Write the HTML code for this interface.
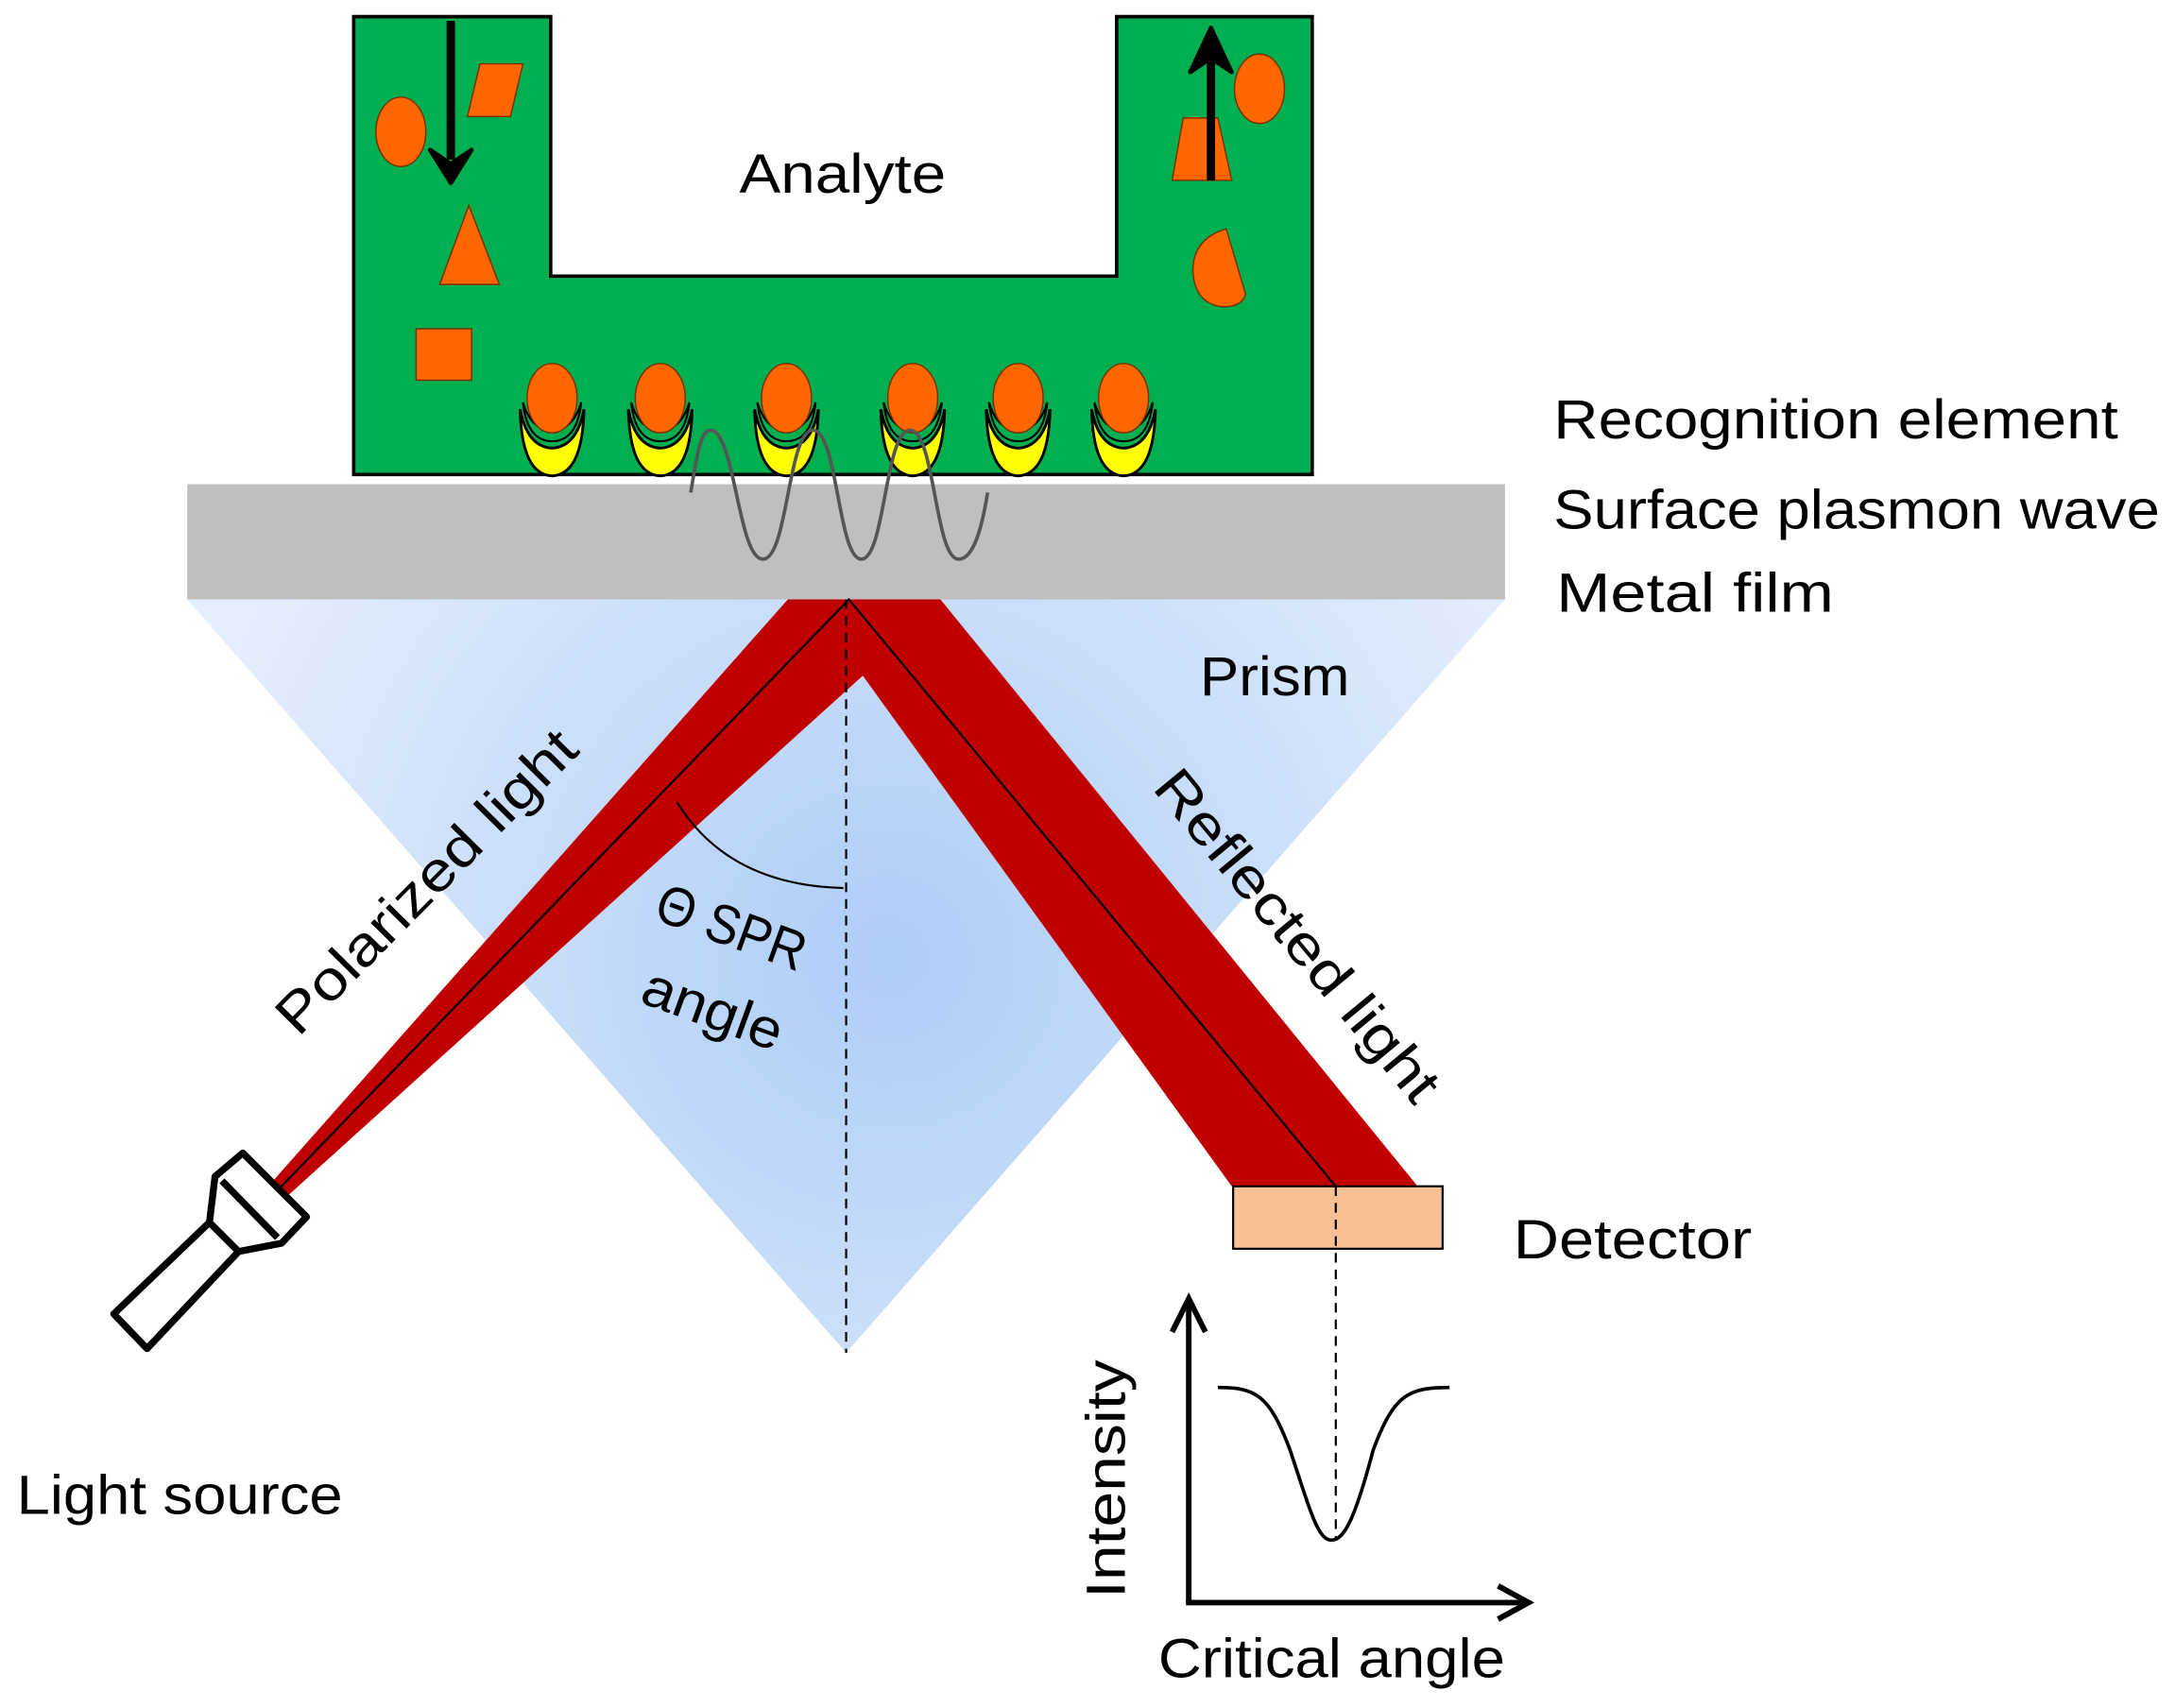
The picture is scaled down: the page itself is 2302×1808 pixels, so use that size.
<!DOCTYPE html>
<html><head><meta charset="utf-8"><style>
html,body{margin:0;padding:0;background:#fff;}
svg{display:block;}
text{font-family:"Liberation Sans",sans-serif;fill:#000;}
</style></head><body>
<svg width="2302" height="1808" viewBox="0 0 1568 1231" preserveAspectRatio="none" xmlns="http://www.w3.org/2000/svg">
<defs>
<radialGradient id="pg" cx="640" cy="690" r="520" gradientUnits="userSpaceOnUse">
<stop offset="0" stop-color="#aecdf7"/><stop offset="1" stop-color="#e4eefc"/>
</radialGradient>
<g id="re" stroke="#000" stroke-width="2">
<path d="M-23,295 Q-22,342 0,343 Q22,342 23,295 Q18,322 0,323 Q-18,322 -23,295 Z" fill="#ffff00"/>
<path d="M-21,290 Q-18,318 0,318 Q18,318 21,290 Q15,310 0,310 Q-15,310 -21,290 Z" fill="#00b050" stroke-width="1.5"/>
<ellipse cx="0" cy="287" rx="18" ry="25" fill="#ff6600" stroke="#7a3000" stroke-width="1"/>
</g>
</defs>
<polygon points="135,432 1085,432 610,975" fill="url(#pg)"/>
<path d="M255,12 H397 V199 H805 V12 H946 V342 H255 Z" fill="#00b050" stroke="#000" stroke-width="2.5"/>
<rect x="135" y="349" width="950" height="83" fill="#bfbfbf"/>
<ellipse cx="289" cy="95" rx="18" ry="25" fill="#ff6600" stroke="#7a3000" stroke-width="1"/>
<polygon points="346,46 377,46 368,84 337,84" fill="#ff6600" stroke="#7a3000" stroke-width="1"/>
<polygon points="317,205 338,148 360,205" fill="#ff6600" stroke="#7a3000" stroke-width="1"/>
<rect x="300" y="237" width="40" height="37" fill="#ff6600" stroke="#7a3000" stroke-width="1"/>
<line x1="325" y1="15" x2="325" y2="115" stroke="#000" stroke-width="6"/>
<polygon points="310,108 325,132 340,108 325,118" fill="#000" stroke="#000" stroke-width="3" stroke-linejoin="round"/>
<ellipse cx="908" cy="64" rx="18" ry="25" fill="#ff6600" stroke="#7a3000" stroke-width="1"/>
<polygon points="853,85 878,85 888,130 845,130" fill="#ff6600" stroke="#7a3000" stroke-width="1"/>
<path d="M884,165 L898,212 Q895,222 880,221 Q861,218 860,195 Q860,172 884,165 Z" fill="#ff6600" stroke="#7a3000" stroke-width="1"/>
<line x1="873" y1="130" x2="873" y2="32" stroke="#000" stroke-width="6"/>
<polygon points="858,52 873,20 888,52 873,42" fill="#000" stroke="#000" stroke-width="3" stroke-linejoin="round"/>
<use href="#re" x="398"/><use href="#re" x="476"/><use href="#re" x="567"/><use href="#re" x="658"/><use href="#re" x="734"/><use href="#re" x="810"/>
<path d="M498,355 C502,330 505,310 512,310 C530,310 532,403 550,403 C568,403 568,310 586,310 C604,310 604,403 621,403 C638,403 638,310 656,310 C674,310 674,403 691,403 C702,403 708,380 712,355" fill="none" stroke="#555" stroke-width="2.5"/>
<polygon points="568,432 614,432 622,487 205,864 196,852" fill="#c00000"/>
<polygon points="606,432 678,432 1022,855 888,855 622,487" fill="#c00000"/>
<polyline points="200,858 612,432 963,855" fill="none" stroke="#000" stroke-width="1.5"/>
<line x1="610" y1="432" x2="610" y2="975" stroke="#000" stroke-width="1.5" stroke-dasharray="7,5"/>
<path d="M488,578 Q525,638 608,640" fill="none" stroke="#000" stroke-width="1.5"/>
<rect x="889" y="855" width="151" height="45" fill="#f8c195" stroke="#000" stroke-width="1.5"/>
<line x1="963" y1="855" x2="963" y2="1110" stroke="#000" stroke-width="1.5" stroke-dasharray="7,5"/>
<line x1="857" y1="1155" x2="857" y2="940" stroke="#000" stroke-width="4"/>
<polyline points="845,960 857,936 869,960" fill="none" stroke="#000" stroke-width="4"/>
<line x1="855" y1="1155" x2="1098" y2="1155" stroke="#000" stroke-width="4"/>
<polyline points="1080,1143 1102,1155 1080,1167" fill="none" stroke="#000" stroke-width="4"/>
<path d="M878,1000 C905,1000 915,1005 930,1045 C945,1090 950,1110 960,1110 C970,1110 978,1090 990,1045 C1005,1005 1015,1000 1045,1000" fill="none" stroke="#000" stroke-width="2.5"/>
<g fill="#fff" stroke="#000" stroke-width="5" stroke-linejoin="round">
<polygon points="82,947 106,972 172,902 151,881"/>
<polygon points="151,881 155,848 175,831 221,877 203,896 172,902"/>
<line x1="160" y1="851" x2="200" y2="892"/>
</g>
<text x="533" y="139" font-size="40" textLength="149" lengthAdjust="spacingAndGlyphs">Analyte</text>
<text x="1120" y="316" font-size="40" textLength="407" lengthAdjust="spacingAndGlyphs">Recognition element</text>
<text x="1120" y="381" font-size="40" textLength="437" lengthAdjust="spacingAndGlyphs">Surface plasmon wave</text>
<text x="1122" y="441" font-size="40" textLength="200" lengthAdjust="spacingAndGlyphs">Metal film</text>
<text x="865" y="501" font-size="40" textLength="108" lengthAdjust="spacingAndGlyphs">Prism</text>
<text x="1091" y="907" font-size="40" textLength="172" lengthAdjust="spacingAndGlyphs">Detector</text>
<text x="12" y="1091" font-size="40" textLength="235" lengthAdjust="spacingAndGlyphs">Light source</text>
<text x="835" y="1209" font-size="40" textLength="250" lengthAdjust="spacingAndGlyphs">Critical angle</text>
<text transform="translate(811,1152) rotate(-90)" font-size="40" textLength="172" lengthAdjust="spacingAndGlyphs">Intensity</text>
<text transform="translate(215,748) rotate(-45.3)" font-size="40" textLength="290" lengthAdjust="spacingAndGlyphs">Polarized light</text>
<text transform="translate(830,568) rotate(50.4)" font-size="40" textLength="298" lengthAdjust="spacingAndGlyphs">Reflected light</text>
<text transform="translate(470,662) rotate(20)" font-size="40" textLength="112" lengthAdjust="spacingAndGlyphs">Θ SPR</text>
<text transform="translate(460,722) rotate(20)" font-size="40" textLength="105" lengthAdjust="spacingAndGlyphs">angle</text>
</svg>
</body></html>
